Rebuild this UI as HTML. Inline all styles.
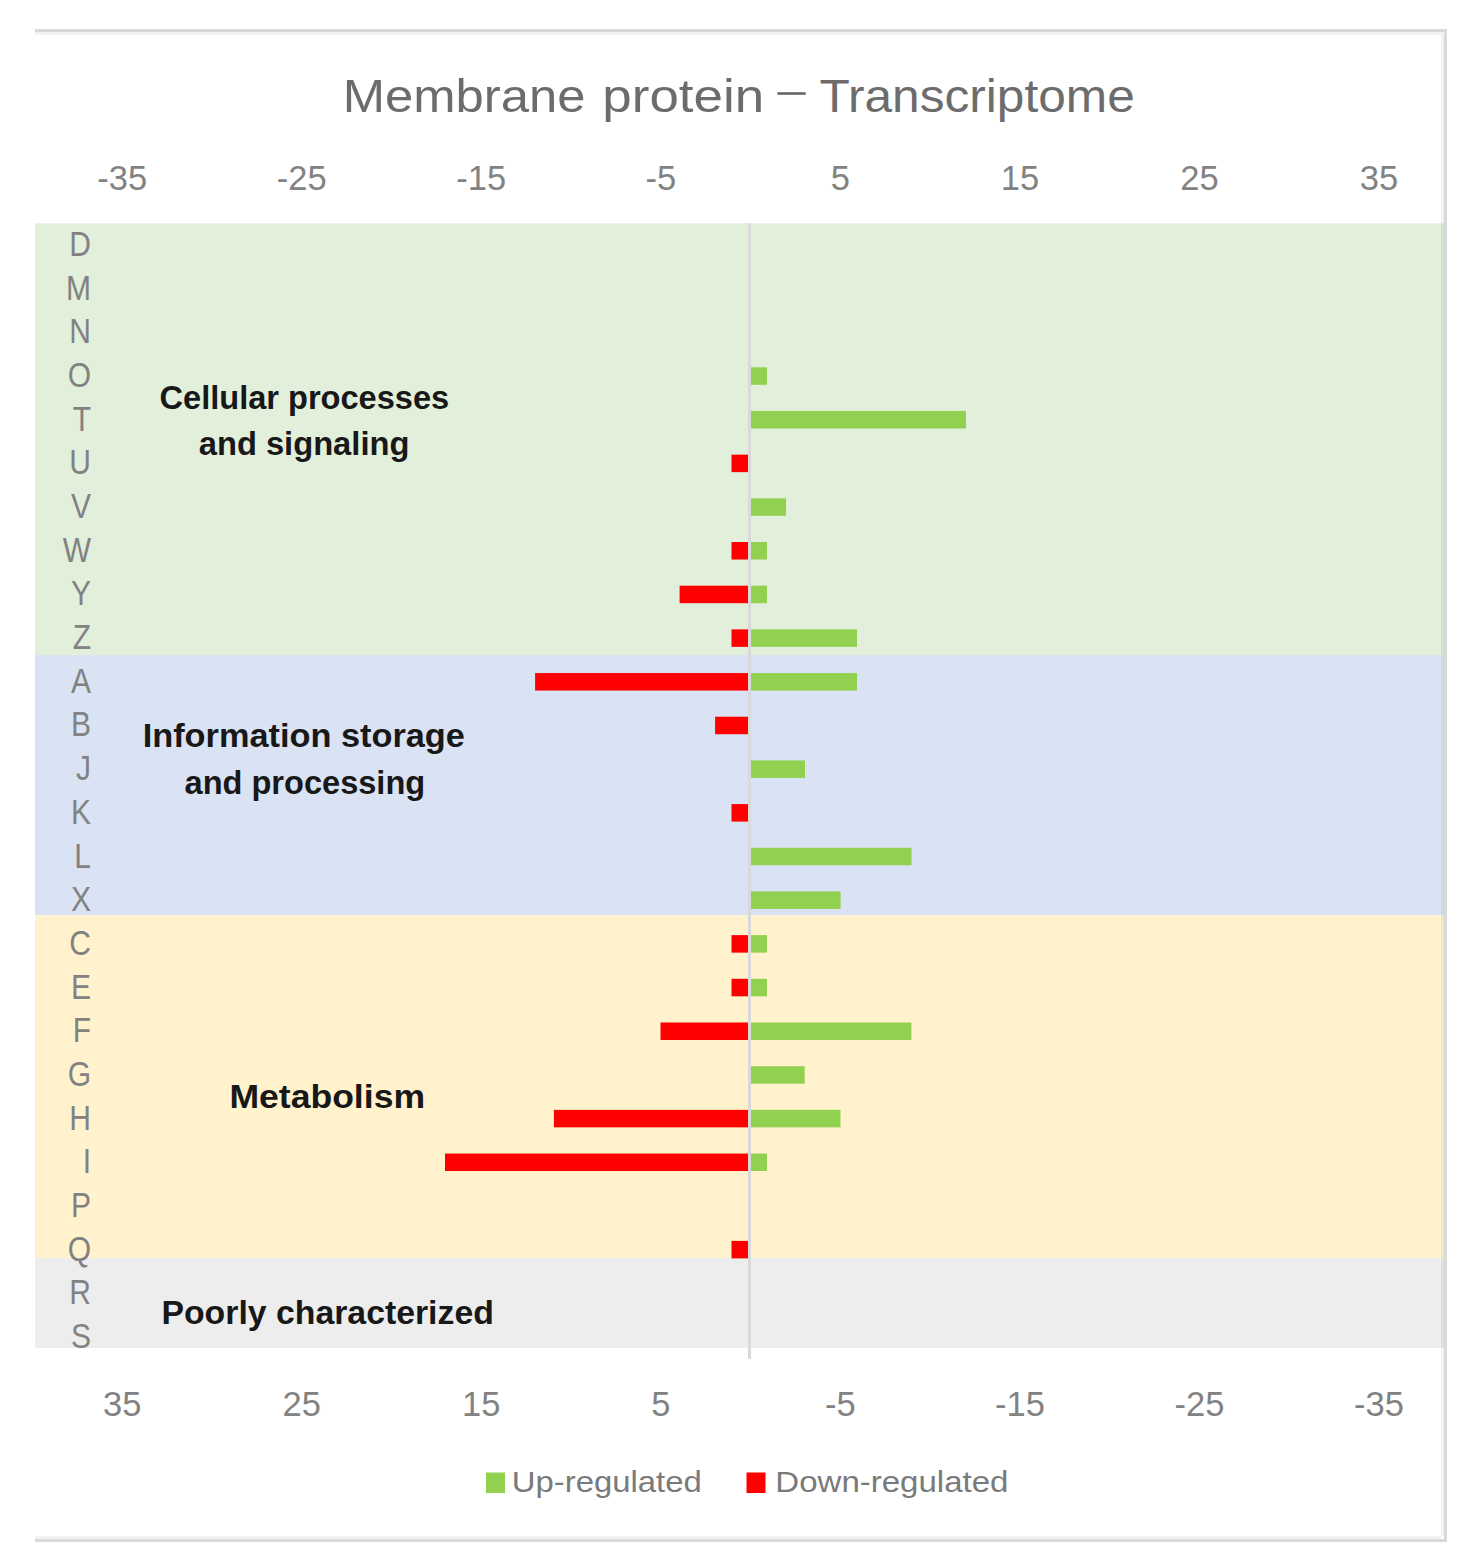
<!DOCTYPE html><html><head><meta charset="utf-8"><style>html,body{margin:0;padding:0;background:#fff;overflow:hidden;width:1481px;height:1568px;}svg{display:block;}text{font-family:"Liberation Sans",sans-serif;}</style></head><body>
<svg width="1481" height="1568" viewBox="0 0 1481 1568">
<rect x="0" y="0" width="1481" height="1568" fill="#ffffff"/>
<rect x="35" y="223.3" width="1409" height="431.70" fill="#e2efda"/>
<rect x="35" y="655.0" width="1409" height="260.30" fill="#dae3f3"/>
<rect x="35" y="915.3" width="1409" height="342.70" fill="#fff2cc"/>
<rect x="35" y="1258.0" width="1409" height="90.00" fill="#ededed"/>
<rect x="749.5" y="367.29" width="17.50" height="17.5" fill="#92d050"/>
<rect x="749.5" y="410.97" width="216.50" height="17.5" fill="#92d050"/>
<rect x="731.5" y="454.65" width="18.00" height="17.5" fill="#ff0000"/>
<rect x="749.5" y="498.33" width="36.50" height="17.5" fill="#92d050"/>
<rect x="749.5" y="542.01" width="17.50" height="17.5" fill="#92d050"/>
<rect x="731.5" y="542.01" width="18.00" height="17.5" fill="#ff0000"/>
<rect x="749.5" y="585.69" width="17.50" height="17.5" fill="#92d050"/>
<rect x="679.6" y="585.69" width="69.90" height="17.5" fill="#ff0000"/>
<rect x="749.5" y="629.37" width="107.50" height="17.5" fill="#92d050"/>
<rect x="731.5" y="629.37" width="18.00" height="17.5" fill="#ff0000"/>
<rect x="749.5" y="673.05" width="107.50" height="17.5" fill="#92d050"/>
<rect x="535.1" y="673.05" width="214.40" height="17.5" fill="#ff0000"/>
<rect x="715.1" y="716.73" width="34.40" height="17.5" fill="#ff0000"/>
<rect x="749.5" y="760.41" width="55.50" height="17.5" fill="#92d050"/>
<rect x="731.5" y="804.09" width="18.00" height="17.5" fill="#ff0000"/>
<rect x="749.5" y="847.77" width="162.00" height="17.5" fill="#92d050"/>
<rect x="749.5" y="891.45" width="91.10" height="17.5" fill="#92d050"/>
<rect x="749.5" y="935.13" width="17.50" height="17.5" fill="#92d050"/>
<rect x="731.5" y="935.13" width="18.00" height="17.5" fill="#ff0000"/>
<rect x="749.5" y="978.81" width="17.50" height="17.5" fill="#92d050"/>
<rect x="731.5" y="978.81" width="18.00" height="17.5" fill="#ff0000"/>
<rect x="749.5" y="1022.49" width="161.90" height="17.5" fill="#92d050"/>
<rect x="660.5" y="1022.49" width="89.00" height="17.5" fill="#ff0000"/>
<rect x="749.5" y="1066.17" width="55.20" height="17.5" fill="#92d050"/>
<rect x="749.5" y="1109.85" width="91.00" height="17.5" fill="#92d050"/>
<rect x="553.9" y="1109.85" width="195.60" height="17.5" fill="#ff0000"/>
<rect x="749.5" y="1153.53" width="17.50" height="17.5" fill="#92d050"/>
<rect x="445" y="1153.53" width="304.50" height="17.5" fill="#ff0000"/>
<rect x="731.5" y="1240.89" width="18.00" height="17.5" fill="#ff0000"/>
<rect x="748" y="223.3" width="3" height="1135.7" fill="#d9d9d9"/>
<rect x="35" y="32" width="1409" height="3" fill="#000" fill-opacity="0.05"/>
<rect x="1441" y="35" width="3" height="1501" fill="#000" fill-opacity="0.05"/>
<rect x="35" y="1536" width="1406" height="3" fill="#000" fill-opacity="0.05"/>
<rect x="35" y="29" width="1412" height="3" fill="#d9d9d9"/>
<rect x="1444" y="29" width="3" height="1513" fill="#d9d9d9"/>
<rect x="35" y="1539" width="1412" height="3" fill="#d9d9d9"/>
<rect x="777.4" y="92.2" width="28.3" height="2.6" fill="#666"/>
<text transform="translate(342.78,111.8) scale(1.1042,1)" font-size="46" font-weight="400" fill="#6c6c6c">Membrane</text>
<text transform="translate(602.35,111.8) scale(1.1511,1)" font-size="46" font-weight="400" fill="#6c6c6c">protein</text>
<text transform="translate(819.42,111.8) scale(1.0792,1)" font-size="46" font-weight="400" fill="#6c6c6c">Transcriptome</text>
<text transform="translate(159.54,409.0) scale(0.9580,1)" font-size="34" font-weight="700" fill="#181818">Cellular processes</text>
<text transform="translate(198.74,455.1) scale(0.9616,1)" font-size="34" font-weight="700" fill="#181818">and signaling</text>
<text transform="translate(142.68,747.3) scale(1.0095,1)" font-size="34" font-weight="700" fill="#181818">Information storage</text>
<text transform="translate(184.54,793.9) scale(0.9581,1)" font-size="34" font-weight="700" fill="#181818">and processing</text>
<text transform="translate(229.41,1107.8) scale(1.0464,1)" font-size="34" font-weight="700" fill="#181818">Metabolism</text>
<text transform="translate(161.41,1323.8) scale(0.9942,1)" font-size="34" font-weight="700" fill="#181818">Poorly characterized</text>
<text transform="translate(511.71,1492.4) scale(1.0959,1)" font-size="30" font-weight="400" fill="#7a7a7a">Up-regulated</text>
<text transform="translate(775.30,1492.4) scale(1.1014,1)" font-size="30" font-weight="400" fill="#7a7a7a">Down-regulated</text>
<text x="122.2" y="189.7" font-size="34.5" fill="#828282" text-anchor="middle">-35</text>
<text x="301.7" y="189.7" font-size="34.5" fill="#828282" text-anchor="middle">-25</text>
<text x="481.3" y="189.7" font-size="34.5" fill="#828282" text-anchor="middle">-15</text>
<text x="660.8" y="189.7" font-size="34.5" fill="#828282" text-anchor="middle">-5</text>
<text x="840.4" y="189.7" font-size="34.5" fill="#828282" text-anchor="middle">5</text>
<text x="1019.9" y="189.7" font-size="34.5" fill="#828282" text-anchor="middle">15</text>
<text x="1199.4" y="189.7" font-size="34.5" fill="#828282" text-anchor="middle">25</text>
<text x="1379.0" y="189.7" font-size="34.5" fill="#828282" text-anchor="middle">35</text>
<text x="122.2" y="1416.2" font-size="34.5" fill="#828282" text-anchor="middle">35</text>
<text x="301.7" y="1416.2" font-size="34.5" fill="#828282" text-anchor="middle">25</text>
<text x="481.3" y="1416.2" font-size="34.5" fill="#828282" text-anchor="middle">15</text>
<text x="660.8" y="1416.2" font-size="34.5" fill="#828282" text-anchor="middle">5</text>
<text x="840.4" y="1416.2" font-size="34.5" fill="#828282" text-anchor="middle">-5</text>
<text x="1019.9" y="1416.2" font-size="34.5" fill="#828282" text-anchor="middle">-15</text>
<text x="1199.4" y="1416.2" font-size="34.5" fill="#828282" text-anchor="middle">-25</text>
<text x="1379.0" y="1416.2" font-size="34.5" fill="#828282" text-anchor="middle">-35</text>
<text transform="translate(91.0,256.00) scale(0.87,1)" font-size="34.5" fill="#828282" text-anchor="end">D</text>
<text transform="translate(91.0,299.68) scale(0.87,1)" font-size="34.5" fill="#828282" text-anchor="end">M</text>
<text transform="translate(91.0,343.36) scale(0.87,1)" font-size="34.5" fill="#828282" text-anchor="end">N</text>
<text transform="translate(91.0,387.04) scale(0.87,1)" font-size="34.5" fill="#828282" text-anchor="end">O</text>
<text transform="translate(91.0,430.72) scale(0.87,1)" font-size="34.5" fill="#828282" text-anchor="end">T</text>
<text transform="translate(91.0,474.40) scale(0.87,1)" font-size="34.5" fill="#828282" text-anchor="end">U</text>
<text transform="translate(91.0,518.08) scale(0.87,1)" font-size="34.5" fill="#828282" text-anchor="end">V</text>
<text transform="translate(91.0,561.76) scale(0.87,1)" font-size="34.5" fill="#828282" text-anchor="end">W</text>
<text transform="translate(91.0,605.44) scale(0.87,1)" font-size="34.5" fill="#828282" text-anchor="end">Y</text>
<text transform="translate(91.0,649.12) scale(0.87,1)" font-size="34.5" fill="#828282" text-anchor="end">Z</text>
<text transform="translate(91.0,692.80) scale(0.87,1)" font-size="34.5" fill="#828282" text-anchor="end">A</text>
<text transform="translate(91.0,736.48) scale(0.87,1)" font-size="34.5" fill="#828282" text-anchor="end">B</text>
<text transform="translate(91.0,780.16) scale(0.87,1)" font-size="34.5" fill="#828282" text-anchor="end">J</text>
<text transform="translate(91.0,823.84) scale(0.87,1)" font-size="34.5" fill="#828282" text-anchor="end">K</text>
<text transform="translate(91.0,867.52) scale(0.87,1)" font-size="34.5" fill="#828282" text-anchor="end">L</text>
<text transform="translate(91.0,911.20) scale(0.87,1)" font-size="34.5" fill="#828282" text-anchor="end">X</text>
<text transform="translate(91.0,954.88) scale(0.87,1)" font-size="34.5" fill="#828282" text-anchor="end">C</text>
<text transform="translate(91.0,998.56) scale(0.87,1)" font-size="34.5" fill="#828282" text-anchor="end">E</text>
<text transform="translate(91.0,1042.24) scale(0.87,1)" font-size="34.5" fill="#828282" text-anchor="end">F</text>
<text transform="translate(91.0,1085.92) scale(0.87,1)" font-size="34.5" fill="#828282" text-anchor="end">G</text>
<text transform="translate(91.0,1129.60) scale(0.87,1)" font-size="34.5" fill="#828282" text-anchor="end">H</text>
<text transform="translate(91.0,1173.28) scale(0.87,1)" font-size="34.5" fill="#828282" text-anchor="end">I</text>
<text transform="translate(91.0,1216.96) scale(0.87,1)" font-size="34.5" fill="#828282" text-anchor="end">P</text>
<text transform="translate(91.0,1260.64) scale(0.87,1)" font-size="34.5" fill="#828282" text-anchor="end">Q</text>
<text transform="translate(91.0,1304.32) scale(0.87,1)" font-size="34.5" fill="#828282" text-anchor="end">R</text>
<text transform="translate(91.0,1348.00) scale(0.87,1)" font-size="34.5" fill="#828282" text-anchor="end">S</text>
<rect x="486" y="1472.5" width="19" height="20.5" fill="#92d050"/>
<rect x="746.5" y="1472.5" width="19" height="20.5" fill="#ff0000"/>
</svg></body></html>
